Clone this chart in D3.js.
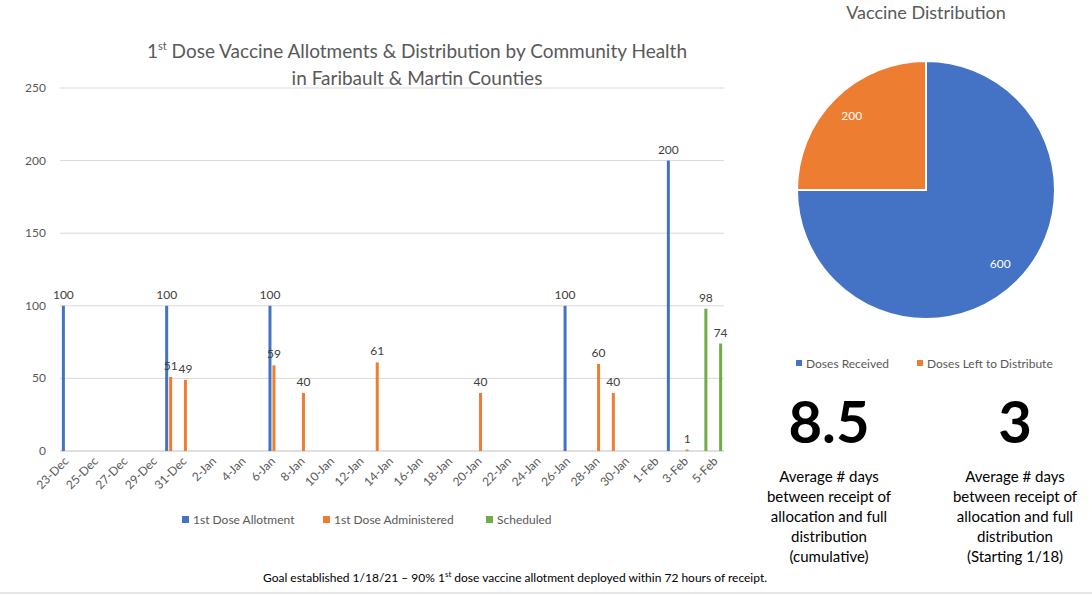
<!DOCTYPE html>
<html>
<head>
<meta charset="utf-8">
<script src="https://cdn.jsdelivr.net/npm/d3@7"></script>
<style>
  body { margin: 0; background: #fff; }
  text { font-family: Lato, "Open Sans", sans-serif; }
</style>
</head>
<body>
<svg id="chart" width="1092" height="595"></svg>
<script>

// Chart data.
var dates = [];
var months = [['Dec', 23, 31], ['Jan', 1, 31], ['Feb', 1, 5]];
months.forEach(function(m) {
  for (var d = m[1]; d <= m[2]; d++) dates.push(d + '-' + m[0]);
});
var allotment = [['23-Dec', 100], ['30-Dec', 100], ['6-Jan', 100], ['26-Jan', 100], ['2-Feb', 200]];
var administered = [['30-Dec', 51], ['31-Dec', 49], ['6-Jan', 59], ['8-Jan', 40], ['13-Jan', 61],
  ['20-Jan', 40], ['28-Jan', 60], ['29-Jan', 40], ['3-Feb', 1]];
var scheduled = [['4-Feb', 98], ['5-Feb', 74]];
var yTicks = [0, 50, 100, 150, 200, 250];
var pieLabels = ['Doses Received', 'Doses Left to Distribute'];
var pieValues = [600, 200];

var blue = '#4472c4', orange = '#ed7d31', green = '#70ad47';
var svg = d3.select('#chart');

// Scales.
var x = d3.scaleBand().domain(dates).range([60, 724]);
var y = d3.scaleLinear().domain([0, 250]).range([451, 88]);

// Gridlines and y labels.
svg.selectAll('line.grid').data(yTicks).enter().append('line')
  .attr('x1', 60).attr('x2', 724)
  .attr('y1', function(d) { return y(d); }).attr('y2', function(d) { return y(d); })
  .attr('stroke', function(d) { return d === 0 ? '#bfbfbf' : '#d9d9d9'; });
svg.selectAll('text.ytick').data(yTicks).enter().append('text')
  .attr('x', 46).attr('y', function(d) { return y(d) + 4; })
  .attr('text-anchor', 'end').attr('font-size', 12).attr('fill', '#595959')
  .text(function(d) { return d; });

// X labels, every other date.
dates.forEach(function(d, i) {
  if (i % 2) return;
  var cx = x(d) + x.bandwidth() / 2 + 2;
  svg.append('text')
    .attr('transform', 'translate(' + cx + ',462) rotate(-45)')
    .attr('text-anchor', 'end').attr('font-size', 12).attr('fill', '#595959')
    .text(d);
});

// Bars.
function drawSeries(data, color, offset) {
  data.forEach(function(p) {
    var cx = x(p[0]) + x.bandwidth() / 2 + offset;
    svg.append('rect')
      .attr('x', cx - 1.5).attr('width', 3)
      .attr('y', y(p[1])).attr('height', y(0) - y(p[1]))
      .attr('fill', color);
    svg.append('text')
      .attr('x', cx).attr('y', y(p[1]) - 7)
      .attr('text-anchor', 'middle').attr('font-size', 12).attr('fill', '#404040')
      .text(p[1]);
  });
}
drawSeries(allotment, blue, -4);
drawSeries(administered, orange, 0);
drawSeries(scheduled, green, 4);

// Title.
var t1 = svg.append('text').attr('x', 417).attr('y', 58)
  .attr('text-anchor', 'middle').attr('font-size', 19).attr('fill', '#595959');
t1.append('tspan').text('1');
t1.append('tspan').attr('font-size', 11).attr('dy', -8).text('st');
t1.append('tspan').attr('dy', 8).text(' Dose Vaccine Allotments & Distribution by Community Health');
svg.append('text').attr('x', 417).attr('y', 85)
  .attr('text-anchor', 'middle').attr('font-size', 19).attr('fill', '#595959')
  .text('in Faribault & Martin Counties');

// Bar legend.
var legend = [['1st Dose Allotment', blue, 182], ['1st Dose Administered', orange, 323], ['Scheduled', green, 486]];
legend.forEach(function(l) {
  svg.append('rect').attr('x', l[2]).attr('y', 516).attr('width', 7).attr('height', 7).attr('fill', l[1]);
  svg.append('text').attr('x', l[2] + 11).attr('y', 524)
    .attr('font-size', 12).attr('fill', '#595959').text(l[0]);
});

// Pie.
var pie = d3.pie().sort(null)(pieValues);
var arc = d3.arc().innerRadius(0).outerRadius(129);
var g = svg.append('g').attr('transform', 'translate(926,190)');
g.selectAll('path').data(pie).enter().append('path')
  .attr('d', arc).attr('fill', function(d, i) { return [blue, orange][i]; })
  .attr('stroke', '#fff').attr('stroke-width', 2);
var labelArc = d3.arc().innerRadius(105).outerRadius(105);
g.selectAll('text').data(pie).enter().append('text')
  .attr('transform', function(d) { return 'translate(' + labelArc.centroid(d) + ')'; })
  .attr('text-anchor', 'middle').attr('dy', 4).attr('font-size', 12).attr('fill', '#fff')
  .text(function(d) { return d.data; });
svg.append('text').attr('x', 926).attr('y', 19).attr('text-anchor', 'middle')
  .attr('font-size', 18).attr('fill', '#595959').text('Vaccine Distribution');

// Pie legend.
[[pieLabels[0], blue, 796], [pieLabels[1], orange, 917]].forEach(function(l) {
  svg.append('rect').attr('x', l[2]).attr('y', 360).attr('width', 6).attr('height', 6).attr('fill', l[1]);
  svg.append('text').attr('x', l[2] + 10).attr('y', 368)
    .attr('font-size', 12).attr('fill', '#595959').text(l[0]);
});

// Summary numbers.
var stats = [
  [829, '8.5', ['Average # days', 'between receipt of', 'allocation and full', 'distribution', '(cumulative)']],
  [1015, '3', ['Average # days', 'between receipt of', 'allocation and full', 'distribution', '(Starting 1/18)']]
];
stats.forEach(function(s) {
  svg.append('text').attr('x', s[0]).attr('y', 443).attr('text-anchor', 'middle')
    .attr('font-size', 58).attr('font-weight', 'bold').attr('fill', '#000').text(s[1]);
  s[2].forEach(function(line, i) {
    svg.append('text').attr('x', s[0]).attr('y', 482 + i * 20).attr('text-anchor', 'middle')
      .attr('font-size', 15).attr('fill', '#000').text(line);
  });
});

// Footnote.
var note = svg.append('text').attr('x', 515).attr('y', 582).attr('text-anchor', 'middle')
  .attr('font-size', 12).attr('fill', '#000');
note.append('tspan').text('Goal established 1/18/21 \u2013 90% 1');
note.append('tspan').attr('font-size', 8).attr('dy', -5).text('st');
note.append('tspan').attr('dy', 5).text(' dose vaccine allotment deployed within 72 hours of receipt.');
svg.append('line').attr('x1', 0).attr('x2', 1092).attr('y1', 593).attr('y2', 593).attr('stroke', '#d0d0d0');

</script>
</body>
</html>
